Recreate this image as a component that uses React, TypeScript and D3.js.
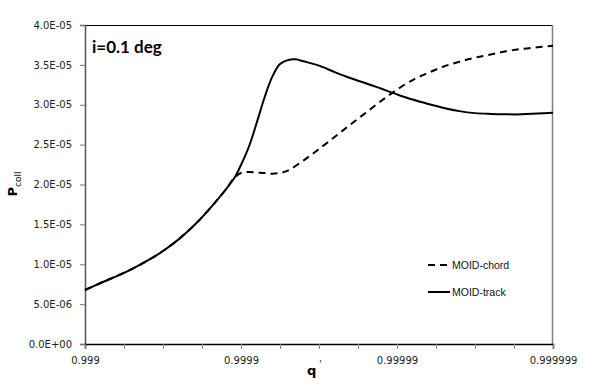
import React, { useEffect, useRef } from 'react';
import * as d3 from 'd3';

// x is the number of nines in q' (0.999 -> 3, 0.999999 -> 6)
const sharedX = [3.0, 3.1, 3.2, 3.3, 3.4, 3.5, 3.6, 3.7, 3.8, 3.9, 3.96];
const sharedP = [6.77e-6, 7.65e-6, 8.49e-6, 9.4e-6, 1.044e-5, 1.166e-5, 1.312e-5, 1.488e-5, 1.698e-5, 1.931e-5, 2.09e-5];

const trackX = [4.0, 4.05, 4.1, 4.15, 4.2, 4.25, 4.3, 4.35, 4.4, 4.5, 4.6, 4.7, 4.8, 4.9, 5.0, 5.1, 5.2, 5.3, 5.4, 5.5, 5.6, 5.7, 5.8, 5.9, 6.0];
const trackP = [2.245e-5, 2.47e-5, 2.77e-5, 3.085e-5, 3.35e-5, 3.51e-5, 3.56e-5, 3.57e-5, 3.545e-5, 3.49e-5, 3.41e-5, 3.335e-5, 3.27e-5, 3.2e-5, 3.13e-5, 3.065e-5, 3.01e-5, 2.96e-5, 2.92e-5, 2.895e-5, 2.885e-5, 2.88e-5, 2.88e-5, 2.89e-5, 2.9e-5];

const chordX = [4.0, 4.05, 4.1, 4.15, 4.2, 4.25, 4.3, 4.4, 4.5, 4.6, 4.7, 4.8, 4.9, 5.0, 5.1, 5.2, 5.3, 5.4, 5.5, 5.6, 5.7, 5.8, 5.9, 6.0];
const chordP = [2.144e-5, 2.157e-5, 2.15e-5, 2.144e-5, 2.135e-5, 2.145e-5, 2.175e-5, 2.3e-5, 2.445e-5, 2.596e-5, 2.75e-5, 2.9e-5, 3.05e-5, 3.19e-5, 3.31e-5, 3.4e-5, 3.48e-5, 3.54e-5, 3.59e-5, 3.63e-5, 3.67e-5, 3.7e-5, 3.72e-5, 3.74e-5];

const xTickLabels = ['0.999', '0.9999', '0.99999', '0.999999'];
const yTicks = [0, 5e-6, 1e-5, 1.5e-5, 2e-5, 2.5e-5, 3e-5, 3.5e-5, 4e-5];

const fmtSci = (v: number) => {
  const [m, e] = v.toExponential(1).toUpperCase().split('E');
  const sign = e.startsWith('-') ? '-' : '+';
  const digits = e.replace(/[+-]/, '').padStart(2, '0');
  return `${m}E${sign}${digits}`;
};

const App = () => {
  const ref = useRef<SVGSVGElement>(null);

  useEffect(() => {
    if (!ref.current) return;
    const W = 600, H = 392;
    const margin = { top: 25, right: 47, bottom: 48, left: 85 };
    const width = W - margin.left - margin.right;
    const height = H - margin.top - margin.bottom;

    const root = d3.select(ref.current);
    root.selectAll('*').remove();
    const svg = root.append('g').attr('transform', `translate(${margin.left},${margin.top})`);

    const x = d3.scaleLinear().domain([3, 6]).range([0, width]);
    const y = d3.scaleLinear().domain([0, 4e-5]).range([height, 0]);

    // frame: top black, right grey
    svg.append('line').attr('x1', 0).attr('x2', width).attr('y1', 0.5).attr('y2', 0.5)
      .attr('stroke', '#000').attr('stroke-width', 1);
    svg.append('line').attr('x1', width - 0.5).attr('x2', width - 0.5).attr('y1', 0).attr('y2', height)
      .attr('stroke', '#808080').attr('stroke-width', 1.5);

    // y axis
    const yAxis = d3.axisLeft(y).tickValues(yTicks).tickFormat((d) => fmtSci(+d)).tickSize(5).tickPadding(8);
    const gy = svg.append('g').call(yAxis);
    gy.select('.domain').attr('stroke', '#555').attr('stroke-width', 1.5);
    gy.selectAll('.tick line').attr('stroke', '#777');
    gy.selectAll('.tick text').attr('fill', '#222').style('font-family', 'DejaVu Sans').style('font-size', '10px');

    // x axis: ticks every quarter decade, labels at each decade
    const xTickVals = d3.range(0, 13).map((i) => 3 + i * 0.25);
    const xAxis = d3.axisBottom(x).tickValues(xTickVals).tickSize(5).tickPadding(8)
      .tickFormat((d) => (Number.isInteger(+d) ? xTickLabels[+d - 3] : ''));
    const gx = svg.append('g').attr('transform', `translate(0,${height})`).call(xAxis);
    gx.select('.domain').attr('stroke', '#000').attr('stroke-width', 1.5);
    gx.selectAll('.tick line').attr('stroke', '#888');
    gx.selectAll('.tick text').attr('fill', '#222').style('font-family', 'DejaVu Sans').style('font-size', '10px');

    const line = d3.line<[number, number]>()
      .x((d) => x(d[0]))
      .y((d) => y(d[1]))
      .curve(d3.curveCatmullRom.alpha(0.5));

    const shared: [number, number][] = sharedX.map((v, i) => [v, sharedP[i]]);
    const chord = shared.concat(chordX.map((v, i) => [v, chordP[i]] as [number, number]));
    const track = shared.concat(trackX.map((v, i) => [v, trackP[i]] as [number, number]));

    svg.append('path').datum(chord).attr('fill', 'none').attr('stroke', '#000')
      .attr('stroke-width', 2).attr('stroke-dasharray', '7,5').attr('d', line);
    svg.append('path').datum(track).attr('fill', 'none').attr('stroke', '#000')
      .attr('stroke-width', 2).attr('d', line);

    // title inside plot
    svg.append('text').attr('x', 7).attr('y', 28).text('i=0.1 deg')
      .style('font-family', 'Lato').style('font-weight', 'bold').style('font-size', '17px').attr('fill', '#000');

    // legend
    const legend = svg.append('g').attr('transform', `translate(${428 - margin.left},${265 - margin.top})`);
    legend.append('line').attr('x1', 0).attr('x2', 20).attr('y1', 0).attr('y2', 0)
      .attr('stroke', '#000').attr('stroke-width', 2).attr('stroke-dasharray', '7,5');
    legend.append('text').attr('x', 24).attr('y', 4).text('MOID-chord')
      .style('font-family', 'Liberation Sans').style('font-size', '10.5px').attr('fill', '#111');
    legend.append('line').attr('x1', 0).attr('x2', 22).attr('y1', 27).attr('y2', 27)
      .attr('stroke', '#000').attr('stroke-width', 2);
    legend.append('text').attr('x', 24).attr('y', 31).text('MOID-track')
      .style('font-family', 'Liberation Sans').style('font-size', '10.5px').attr('fill', '#111');

    // axis titles
    const xt = root.append('text').attr('x', 307).attr('y', 375)
      .style('font-family', 'DejaVu Sans').style('font-weight', 'bold').style('font-size', '13px');
    xt.append('tspan').text('q');
    xt.append('tspan').attr('dx', 3).attr('dy', -8).style('font-size', '9px').style('font-weight', 'normal').text("'");

    const yt = root.append('text').attr('transform', 'translate(17,184) rotate(-90)')
      .attr('text-anchor', 'middle')
      .style('font-family', 'DejaVu Sans').style('font-weight', 'bold').style('font-size', '13px');
    yt.append('tspan').text('P');
    yt.append('tspan').attr('dy', 4).style('font-size', '9px').style('font-weight', 'normal').text('coll');
  }, []);

  return (
    <svg ref={ref} width={600} height={392}
      style={{ position: 'absolute', left: 0, top: 0, background: '#fff' }} />
  );
};

export default App;
